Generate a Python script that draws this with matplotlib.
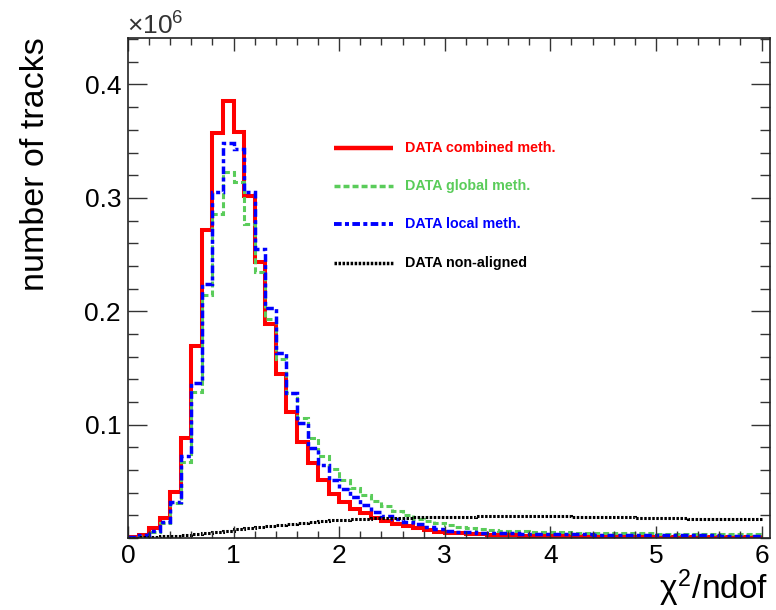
import numpy as np
import matplotlib
matplotlib.use('Agg')
import matplotlib.pyplot as plt
from matplotlib import font_manager
from matplotlib.ticker import MultipleLocator, FixedLocator

# track chi2/ndof distributions, bins of 0.1 from 0 to 6, counts in units of 1e6
EDGES = np.linspace(0.0, 6.0, 61)

COMBINED = [
    0.0010, 0.0030, 0.0090, 0.0180, 0.0410, 0.0880, 0.1690, 0.2720, 0.3570, 0.3850,
    0.3580, 0.3020, 0.2430, 0.1890, 0.1450, 0.1110, 0.0850, 0.0660, 0.0510, 0.0390,
    0.0320, 0.0260, 0.0220, 0.0180, 0.0150, 0.0120, 0.0105, 0.0085, 0.0070, 0.0056,
    0.0046, 0.0040, 0.0035, 0.0031, 0.0028, 0.0025, 0.0023, 0.0021, 0.0019, 0.0018,
    0.0017, 0.0016, 0.0016, 0.0015, 0.0015, 0.0014, 0.0014, 0.0013, 0.0013, 0.0012,
    0.0012, 0.0011, 0.0011, 0.0009, 0.0008, 0.0008, 0.0007, 0.0007, 0.0007, 0.0006,
]
GLOBAL = [
    0.0005, 0.0020, 0.0050, 0.0130, 0.0310, 0.0670, 0.1290, 0.2140, 0.2860, 0.3230,
    0.3140, 0.2770, 0.2350, 0.1930, 0.1580, 0.1280, 0.1060, 0.0880, 0.0720, 0.0610,
    0.0510, 0.0440, 0.0380, 0.0330, 0.0280, 0.0240, 0.0200, 0.0170, 0.0150, 0.0130,
    0.0115, 0.0100, 0.0088, 0.0079, 0.0072, 0.0066, 0.0062, 0.0059, 0.0056, 0.0053,
    0.0051, 0.0049, 0.0047, 0.0046, 0.0045, 0.0044, 0.0043, 0.0042, 0.0041, 0.0040,
    0.0039, 0.0038, 0.0037, 0.0036, 0.0036, 0.0035, 0.0034, 0.0034, 0.0033, 0.0032,
]
LOCAL = [
    0.0008, 0.0030, 0.0060, 0.0140, 0.0320, 0.0720, 0.1370, 0.2240, 0.3050, 0.3480,
    0.3430, 0.3050, 0.2550, 0.2030, 0.1630, 0.1280, 0.1010, 0.0790, 0.0640, 0.0510,
    0.0430, 0.0360, 0.0290, 0.0230, 0.0190, 0.0170, 0.0144, 0.0120, 0.0100, 0.0077,
    0.0064, 0.0057, 0.0052, 0.0048, 0.0045, 0.0042, 0.0040, 0.0039, 0.0037, 0.0036,
    0.0034, 0.0033, 0.0032, 0.0031, 0.0030, 0.0030, 0.0029, 0.0028, 0.0028, 0.0027,
    0.0026, 0.0026, 0.0025, 0.0024, 0.0024, 0.0023, 0.0022, 0.0022, 0.0021, 0.0020,
]
NON_ALIGNED = [
    0.0003, 0.0006, 0.0010, 0.0015, 0.0021, 0.0028, 0.0036, 0.0045, 0.0055, 0.0066,
    0.0077, 0.0087, 0.0097, 0.0107, 0.0117, 0.0127, 0.0136, 0.0144, 0.0151, 0.0157,
    0.0162, 0.0166, 0.0170, 0.0173, 0.0176, 0.0178, 0.0180, 0.0182, 0.0184, 0.0186,
    0.0187, 0.0188, 0.0189, 0.0190, 0.0190, 0.0191, 0.0191, 0.0191, 0.0191, 0.0191,
    0.0190, 0.0190, 0.0189, 0.0188, 0.0187, 0.0185, 0.0183, 0.0181, 0.0179, 0.0177,
    0.0175, 0.0173, 0.0172, 0.0170, 0.0169, 0.0168, 0.0167, 0.0166, 0.0165, 0.0164,
]

LABELS = ['DATA combined meth.', 'DATA global meth.', 'DATA local meth.', 'DATA non-aligned']
X_TICKS = [0, 1, 2, 3, 4, 5, 6]
Y_TICKS = [0.1, 0.2, 0.3, 0.4]

plt.rcParams['font.family'] = ['Liberation Sans', 'DejaVu Sans']
plt.rcParams['mathtext.fontset'] = 'custom'
plt.rcParams['mathtext.rm'] = 'Liberation Sans'
plt.rcParams['mathtext.it'] = 'Liberation Sans'
plt.rcParams['lines.scale_dashes'] = False

# narrow face for the legend if the system has one
installed = {f.name for f in font_manager.fontManager.ttflist}
if 'Liberation Sans Narrow' in installed:
    LEG_FONT, LEG_SIZE = 'Liberation Sans Narrow', 12.5
else:
    LEG_FONT, LEG_SIZE = 'Liberation Sans', 10.3

W, H = 776, 610
fig = plt.figure(figsize=(W / 100, H / 100), dpi=100)
ax = fig.add_axes([128 / W, 1 - 538 / H, (770 - 128) / W, (538 - 38) / H])

# (values, label, colour, linestyle, linewidth) -- drawn bottom to top
STYLES = [
    (COMBINED,    LABELS[0], '#ff0000', '-',                          2.9),
    (GLOBAL,      LABELS[1], '#5acc5a', (0, (4.3, 2.2)),              2.2),
    (LOCAL,       LABELS[2], '#0000ff', (0, (5.5, 2.4, 2.9, 2.4)),    2.5),
    (NON_ALIGNED, LABELS[3], '#000000', (0, (1.8, 1.1)),              2.2),
]

for vals, lab, col, ls, lw in STYLES:
    ax.stairs(vals, EDGES, baseline=None, color=col, linestyle=ls, lw=lw,
              joinstyle='miter', capstyle='butt', label=lab)

ax.set_xlim(0, 6.08)
ax.set_ylim(0, 0.441)
ax.xaxis.set_major_locator(FixedLocator(X_TICKS))
ax.xaxis.set_minor_locator(MultipleLocator(0.2))
ax.yaxis.set_major_locator(FixedLocator(Y_TICKS))
ax.yaxis.set_minor_locator(MultipleLocator(0.02))
ax.set_xticklabels([str(t) for t in X_TICKS])
ax.set_yticklabels([f'{t:.1f}' for t in Y_TICKS])

ax.tick_params(which='both', direction='in', top=True, right=True,
               color='#333333', labelsize=19, width=1)
ax.tick_params(axis='x', which='major', length=9, pad=4)
ax.tick_params(axis='x', which='minor', length=5)
ax.tick_params(axis='y', which='major', length=13.5, pad=5)
ax.tick_params(axis='y', which='minor', length=7)
for s in ax.spines.values():
    s.set_linewidth(1.2)
    s.set_color('#222222')

# axis titles at the axis ends
fig.text(36 / W, 1 - 37 / H, 'number of tracks', rotation=90,
         ha='center', va='top', fontsize=24.5)
fig.text(768 / W, 1 - 599 / H, r'$\chi^{2}$/ndof', ha='right', va='baseline',
         fontsize=24)
fig.text(127 / W, 1 - 35 / H, r'$\times10^{6}$', ha='left', va='baseline',
         fontsize=19, color='#333333')

# legend rows: sample line plus coloured label
LEG_ROWS = [148, 186, 224, 263]
for (vals, lab, col, ls, lw), yp in zip(STYLES, LEG_ROWS):
    yf = 1 - yp / H
    fig.add_artist(plt.Line2D([334 / W, 393 / W], [yf, yf], color=col,
                              linestyle=ls, lw=lw + 0.3, solid_capstyle='butt',
                              dash_capstyle='butt'))
    fig.text(405 / W, yf, lab, color=col, family=[LEG_FONT, 'Liberation Sans'],
             fontsize=LEG_SIZE, fontweight='bold', ha='left', va='center')

fig.savefig('out.png', dpi=100)
